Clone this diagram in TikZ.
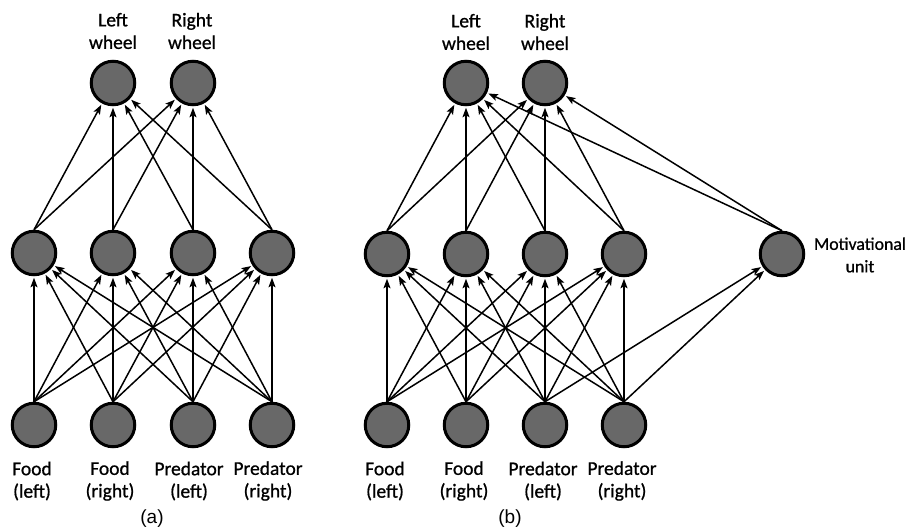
\documentclass[tikz,border=0pt]{standalone}
\usepackage{fontspec}
\setmainfont{Carlito}
\newfontfamily\labfont{Carlito}[FakeBold=0.8]
\newfontfamily\capfont{Liberation Sans}
\usetikzlibrary{arrows.meta}
\definecolor{nodegray}{RGB}{104,104,104}
\begin{document}
\begin{tikzpicture}[x=1pt,y=-1pt,
  unit/.style={circle, draw=black, line width=3pt, fill=nodegray, minimum size=43.5pt, inner sep=0pt},
  conn/.style={line width=1.5pt, -{Stealth[length=9.5pt,width=7pt,inset=2pt]}, shorten >=1.5pt},
  lab/.style={align=center, font=\labfont\fontsize{19.5}{22.5}\selectfont, inner sep=0pt},
  panelcap/.style={font=\capfont\fontsize{19}{22}\selectfont, inner sep=0pt}]
\useasboundingbox (0,0) rectangle (909,531);

% ---------- panel (a) ----------
\node[unit] (ao1) at (113,83) {};
\node[unit] (ao2) at (193,83) {};
\node[unit] (ah1) at (34,253) {};
\node[unit] (ah2) at (113,253) {};
\node[unit] (ah3) at (193,253) {};
\node[unit] (ah4) at (272,253) {};
\node[unit] (ai1) at (34,425) {};
\node[unit] (ai2) at (113,425) {};
\node[unit] (ai3) at (193,425) {};
\node[unit] (ai4) at (272,425) {};

\node[lab] (aol1) at (113,31) {Left\\wheel};
\node[lab] (aol2) at (192,31) {Right\\wheel};
\node[lab] (ail1) at (32,481) {Food\\(left)};
\node[lab] (ail2) at (110,481) {Food\\(right)};
\node[lab] (ail3) at (189,481) {Predator\\(left)};
\node[lab] (ail4) at (268,481) {Predator\\(right)};
\node[panelcap] (capa) at (152,519) {(a)};

\foreach \i in {1,...,4}
  \foreach \j in {1,...,4}
    \draw[conn] (ai\i.north) -- (ah\j);
\foreach \j in {1,...,4}
  \foreach \k in {1,2}
    \draw[conn] (ah\j.north) -- (ao\k);

% ---------- panel (b) ----------
\node[unit] (bo1) at (466,83) {};
\node[unit] (bo2) at (545,83) {};
\node[unit] (bh1) at (387,254) {};
\node[unit] (bh2) at (466,254) {};
\node[unit] (bh3) at (545,254) {};
\node[unit] (bh4) at (624,254) {};
\node[unit] (mot) at (782,254) {};
\node[unit] (bi1) at (387,425) {};
\node[unit] (bi2) at (466,425) {};
\node[unit] (bi3) at (545,425) {};
\node[unit] (bi4) at (624,425) {};

\node[lab] (bol1) at (466,32) {Left\\wheel};
\node[lab] (bol2) at (545,32) {Right\\wheel};
\node[lab, font=\labfont\fontsize{17.8}{22.5}\selectfont] (motl) at (860,255) {Motivational\\unit};
\node[lab] (bil1) at (385,481) {Food\\(left)};
\node[lab] (bil2) at (464,481) {Food\\(right)};
\node[lab] (bil3) at (543,481) {Predator\\(left)};
\node[lab] (bil4) at (622,481) {Predator\\(right)};
\node[panelcap] (capb) at (510,519) {(b)};

\foreach \i in {1,...,4}
  \foreach \j in {1,...,4}
    \draw[conn] (bi\i.north) -- (bh\j);
\foreach \j in {1,...,4}
  \foreach \k in {1,2}
    \draw[conn] (bh\j.north) -- (bo\k);
\draw[conn] (bi3.north) -- (mot);
\draw[conn] (bi4.north) -- (mot);
\draw[conn] (mot.north) -- (bo1);
\draw[conn] (mot.north) -- (bo2);
\end{tikzpicture}
\end{document}
